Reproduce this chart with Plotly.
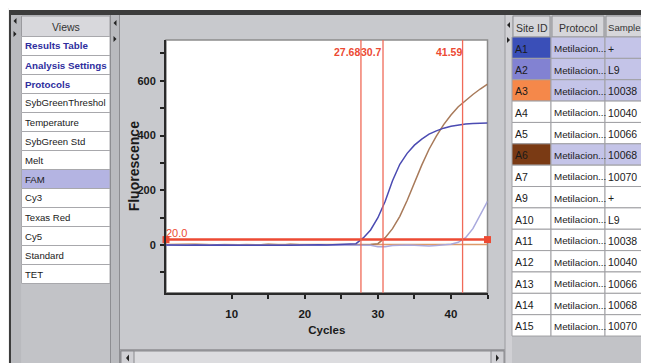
import plotly.graph_objects as go

# ---------------- data ----------------
cycles = [1, 2, 3, 4, 5, 6, 7, 8, 9, 10, 11, 12, 13, 14, 15, 16, 17, 18, 19, 20,
          21, 22, 23, 24, 25, 26, 27, 28, 29, 30, 31, 32, 33, 34, 35, 36, 37, 38, 39, 40,
          41, 42, 43, 44, 45]

a3_orange = [2, 3, 3, 3, 3, 2, 1, 1, 2, 1, 1, 2, 1, 1, 2, 2, 1, 2, 2, 1,
             1, 2, 1, 1, 2, 2, 1, 2, 2, 1, 1, 2, 1, 2, 2, 1, 1, 2, 2, 1,
             2, 2, 1, 2, 2]
a6_brown = [1, 2, 2, 2, 2, 1, 0, 0, 0, 0, 0, 0, 0, 1, 3, 1, 0, 3, 1, 0,
            0, 0, 0, 0, 0, 0, 1, 2, 2, 5, 27, 60, 105, 163, 230, 292, 350, 398, 440, 475,
            505, 528, 550, 570, 588]
a2_lilac = [0, 0, 0, 0, 0, 0, 0, 0, 0, 0, 0, 0, 0, 0, 0, 0, 0, 0, 0, 0,
            0, 1, 0, 0, 0, 0, 0, 0, -1, -6, -6, -2, 0, 0, -1, -3, -3, -2, 0, 3,
            10, 27, 60, 108, 160]
a1_blue = [0, -1, 0, -1, 0, -1, -1, 0, -1, 0, -1, -1, 0, -1, -1, 0, -1, -1, 0, -1,
           0, 1, 0, 1, 2, 3, 5, 26, 55, 100, 160, 235, 295, 335, 365, 387, 405, 417, 427, 434,
           439, 442, 444, 445, 446]

threshold = 20.0
ct_values = [27.68, 30.7, 41.59]
ct_labels = ["27.68", "30.7", "41.59"]

x_ticks = [10, 20, 30, 40]
x_minor = [15, 25, 35, 45]
y_ticks = [0, 200, 400, 600]
y_minor = [-100, 100, 300, 500, 700]

views = ["Results Table", "Analysis Settings", "Protocols", "SybGreenThreshol",
         "Temperature", "SybGreen Std", "Melt", "FAM", "Cy3", "Texas Red", "Cy5",
         "Standard", "TET"]
views_header = "Views"
linked_views = ["Results Table", "Analysis Settings", "Protocols"]
selected_view = "FAM"

table_headers = ["Site ID", "Protocol", "Sample..."]
site_ids = ["A1", "A2", "A3", "A4", "A5", "A6", "A7", "A9", "A10", "A11", "A12",
            "A13", "A14", "A15"]
protocols = ["Metilacion...", "Metilacion...", "Metilacion...", "Metilacion...",
             "Metilacion...", "Metilacion...", "Metilacion...", "Metilacion...",
             "Metilacion...", "Metilacion...", "Metilacion...", "Metilacion...",
             "Metilacion...", "Metilacion..."]
samples = ["+", "L9", "10038", "10040", "10066", "10068", "10070",
           "+", "L9", "10038", "10040", "10066", "10068", "10070"]

# ---------------- styles ----------------
W, H = 649, 363          # figure size
OFF = 8                  # page margin: screen position of the figure's corner
FONT = "Liberation Sans, Arial, sans-serif"
PANEL = "#c8c9cd"
STRIP = "#b9babe"
RED = "#ec4a33"
RED_V = "#f06a58"
TXT = 9.8
site_colors = {"A1": "#3a4fb8", "A2": "#8282d2", "A3": "#f5884a", "A6": "#7a3a14"}
SEL_FILL = "#c4c4e8"

series = [
    ("A3", a3_orange, "#dc9a6a"),
    ("A6", a6_brown, "#a87a5a"),
    ("A2", a2_lilac, "#a9a9dd"),
    ("A1", a1_blue, "#4b4bb2"),
]

# plot area, screen pixels
PL, PR, PT, PB = 166, 487.5, 40, 292.7


def fx(x):
    return (x - OFF) / W


def fy(y):
    return 1 - (y - OFF) / H


shapes = []
annotations = []


def rect(x0, y0, x1, y1, fill, line=None, lw=0, layer="below"):
    shapes.append(dict(type="rect", xref="paper", yref="paper",
                       x0=fx(x0), x1=fx(x1), y0=fy(y1), y1=fy(y0),
                       fillcolor=fill, layer=layer,
                       line=dict(color=line if line else fill, width=lw)))


def vline(x, y0, y1, color, lw=1):
    shapes.append(dict(type="line", xref="paper", yref="paper",
                       x0=fx(x), x1=fx(x), y0=fy(y0), y1=fy(y1),
                       line=dict(color=color, width=lw), layer="below"))


def tri(cx, cy, direction, w=3, h=6, color="#222"):
    if direction == "left":
        pts = [(cx + w / 2, cy - h / 2), (cx - w / 2, cy), (cx + w / 2, cy + h / 2)]
    else:
        pts = [(cx - w / 2, cy - h / 2), (cx + w / 2, cy), (cx - w / 2, cy + h / 2)]
    path = "M " + " L ".join(f"{fx(a):.5f},{fy(b):.5f}" for a, b in pts) + " Z"
    shapes.append(dict(type="path", xref="paper", yref="paper", path=path,
                       fillcolor=color, line=dict(color=color, width=0), layer="above"))


def text(x, y, s, size=TXT, color="#1a1a1a", anchor="left", bold=False):
    annotations.append(dict(xref="paper", yref="paper", x=fx(x), y=fy(y), text=s,
                            showarrow=False, xanchor=anchor, yanchor="middle",
                            borderpad=0,
                            font=dict(family=FONT, size=size, color=color,
                                      weight="bold" if bold else "normal")))


BOTTOM = OFF + H
RIGHT = OFF + W

# ---------- window frame ----------
rect(OFF, OFF, RIGHT, 10, "#ffffff")
rect(OFF, OFF, 9, BOTTOM, "#f2f2f2")
rect(9, 10, RIGHT, 15, "#3c3c3c")
rect(9, 10, 11, BOTTOM, "#3c3c3c")

# left splitter strip
rect(11, 15, 21.5, BOTTOM, STRIP)
tri(15, 21, "left")
tri(15, 34, "right")

# left views list
rect(21.5, 15, 110, BOTTOM, "#c2c3c7")
VX0, VX1, VHT, VHB, VRH = 21.5, 110, 16, 36.5, 19
rect(VX0, VHT, VX1, VHB, "#d8d8dc", "#9a9a9e", 1)
text((VX0 + VX1) / 2, (VHT + VHB) / 2 + 1, views_header, 10.5, "#333", anchor="center")
for i, v in enumerate(views):
    y0 = VHB + i * VRH
    fill = "#b4b4e2" if v == selected_view else "#ffffff"
    rect(VX0, y0, VX1, y0 + VRH, fill, "#a8a8ac", 1)
    if v in linked_views:
        text(VX0 + 2, y0 + VRH / 2, v, 9.8, "#2e2e9e", bold=True)
    else:
        text(VX0 + 2, y0 + VRH / 2, v, 9.6, "#1a1a1a")

# middle splitter strip
rect(110, 15, 120, BOTTOM, STRIP)
vline(110.5, 15, BOTTOM, "#8d8d91", 1)
vline(119.5, 15, BOTTOM, "#8d8d91", 1)
tri(115, 23, "left")
tri(115, 39, "right")

# chart bottom scrollbar
rect(120, 349, 505, BOTTOM, "#9c9ca0")
rect(121, 351, 504, BOTTOM, "#dcdcdf", "#8a8a8e", 1)
rect(121, 351, 134, 366, "#d0d0d4", "#8a8a8e", 1)
rect(491, 351, 504, 366, "#d0d0d4", "#8a8a8e", 1)
tri(127.5, 358, "left", 3, 7)
tri(497.5, 358, "right", 3, 7)

# right splitter strip
rect(505, 15, 512, BOTTOM, "#d0d0d4")
vline(505, 15, BOTTOM, "#9a9a9e", 1)
tri(508.5, 25, "left")
tri(508.5, 40, "right")

# right sample table
TX = [512, 551, 605, 665]
THT, THB, TRH = 16, 37, 21.36
rect(512, 15, RIGHT, BOTTOM, "#c2c3c7")
for j, hdr in enumerate(table_headers):
    rect(TX[j] + 1, THT, TX[j + 1] - 1, THB, "#d6d6da", "#8e8e92", 1)
    if j < 2:
        text((TX[j] + TX[j + 1]) / 2, (THT + THB) / 2 + 1, hdr, 10.5, "#333", anchor="center")
    else:
        text(TX[j] + 2, (THT + THB) / 2 + 1, hdr, 9.6, "#333")
for i, (sid, prot, samp) in enumerate(zip(site_ids, protocols, samples)):
    y0 = THB + i * TRH
    row_fill = SEL_FILL if sid in site_colors else "#ffffff"
    rect(TX[0], y0, TX[1], y0 + TRH, site_colors.get(sid, "#ffffff"), "#a0a0a4", 1)
    rect(TX[1], y0, TX[2], y0 + TRH, row_fill, "#a0a0a4", 1)
    rect(TX[2], y0, TX[3], y0 + TRH, row_fill, "#a0a0a4", 1)
    cy = y0 + TRH / 2 + 1
    text(TX[0] + 1.5, cy, sid, 10.5, "#1a1a1a")
    text(TX[1] + 1.5, cy, prot, TXT, "#1a1a1a")
    text(TX[2] + 2, cy, samp, 10.5, "#1a1a1a")

# plot frame (top/right grey)
rect(PL, PT, PR, PB, "rgba(0,0,0,0)", "#8c8c8c", 1.5)

# ---------------- figure ----------------
fig = go.Figure()
for name, vals, col in series:
    fig.add_trace(go.Scatter(x=cycles, y=vals, mode="lines", name=name,
                             line=dict(color=col, width=1.5), hoverinfo="skip"))

fig.add_trace(go.Scatter(x=[cycles[0], cycles[-1]], y=[threshold, threshold],
                         mode="lines+markers", name="threshold",
                         line=dict(color=RED, width=2.5),
                         marker=dict(symbol="square", size=7, color=RED),
                         cliponaxis=False, hoverinfo="skip"))

for ct, lab in zip(ct_values, ct_labels):
    shapes.append(dict(type="line", xref="x", yref="y domain", x0=ct, x1=ct, y0=0, y1=1,
                       line=dict(color=RED_V, width=1.3), layer="above"))
    annotations.append(dict(xref="x", yref="paper", x=ct, y=fy(52), text=lab,
                            showarrow=False, xanchor="right", yanchor="middle", xshift=0,
                            borderpad=0,
                            font=dict(family=FONT, size=10.5, color=RED, weight="bold")))

annotations.append(dict(xref="x", yref="y", x=cycles[0], y=threshold, text=f"{threshold:.1f}",
                        showarrow=False, xanchor="left", yanchor="bottom", yshift=0, xshift=-1,
                        borderpad=0,
                        font=dict(family=FONT, size=11, color=RED)))

# y title
annotations.append(dict(xref="paper", yref="paper", x=fx(134), y=fy((PT + PB) / 2),
                        text="Fluorescence", textangle=-90, showarrow=False,
                        xanchor="center", yanchor="middle",
                        font=dict(family=FONT, size=14, color="#1a1a1a", weight="bold")))

fig.update_layout(
    width=W, height=H, margin=dict(l=0, r=0, t=0, b=0),
    paper_bgcolor=PANEL, plot_bgcolor="#ffffff",
    showlegend=False, shapes=shapes, annotations=annotations,
    xaxis=dict(domain=[fx(PL), fx(PR)], range=[cycles[0], cycles[-1]],
               tickvals=x_ticks, ticks="outside", ticklen=4, tickwidth=1.5, tickcolor="#222",
               minor=dict(tickvals=x_minor, ticks="outside", ticklen=4, tickwidth=1.5, tickcolor="#222"),
               showgrid=False, zeroline=False, showline=True, linecolor="#2a2a2a", linewidth=2,
               tickfont=dict(family=FONT, size=11.5, color="#1a1a1a", weight="bold"),
               ticklabelstandoff=5,
               title=dict(text="Cycles", standoff=7,
                          font=dict(family=FONT, size=11.5, color="#1a1a1a", weight="bold"))),
    yaxis=dict(domain=[fy(PB), fy(PT)], range=[-174, 749],
               tickvals=y_ticks, ticks="outside", ticklen=4, tickwidth=1.5, tickcolor="#222",
               minor=dict(tickvals=y_minor, ticks="outside", ticklen=4, tickwidth=1.5, tickcolor="#222"),
               showgrid=False, zeroline=False, showline=True, linecolor="#2a2a2a", linewidth=2,
               tickfont=dict(family=FONT, size=11, color="#1a1a1a", weight="bold"),
               ticklabelstandoff=2),
)

fig.write_html("out.html")
